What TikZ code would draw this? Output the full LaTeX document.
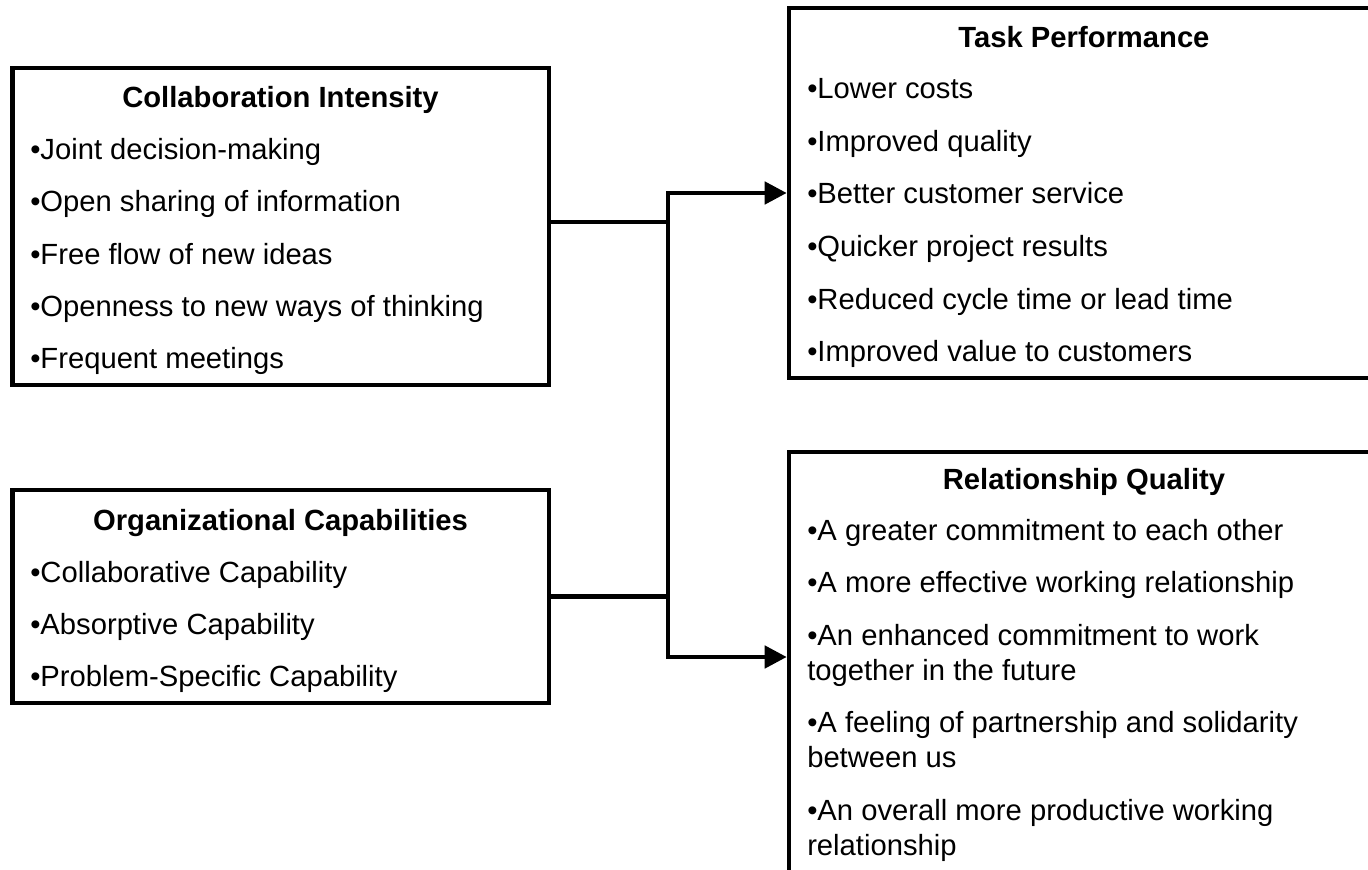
\documentclass[tikz,border=0pt]{standalone}
\usepackage{fontspec}
\setmainfont{Liberation Sans}
\usetikzlibrary{arrows.meta,fit}

\tikzset{
	box/.style={draw, line width=3.4pt, inner sep=0pt},
	head/.style={anchor=base, inner sep=0pt, font=\fontsize{21.9}{26}\selectfont\bfseries},
	item/.style={anchor=base west, inner sep=0pt, font=\fontsize{21.9}{26}\selectfont},
	link/.style={line width=3.4pt},
	arr/.style={link, -{Triangle[length=16.5pt,width=16.5pt]}}
}

\begin{document}
\begin{tikzpicture}[x=0.75pt,y=-0.75pt]
	\clip (0,0) rectangle (1368,870);
	\node[box, fit={(12.5,68) (549,385)}] (ci) {};
	\node[box, fit={(12.5,490) (549,703)}] (oc) {};
	\node[box, fit={(789,8) (1379,378)}] (tp) {};
	\node[box, fit={(789,452) (1379,900)}] (rq) {};
	\node[head] (cihead) at (280.5,108) {Collaboration Intensity};
	\foreach \y/\t [count=\i] in {160/Joint decision-making, 212/Open sharing of information,
		264/Free flow of new ideas, 316/Openness to new ways of thinking, 368/Frequent meetings}
		\node[item] (ci\i) at (30,\y) {•\t};
	\node[head] (ochead) at (280.5,530) {Organizational Capabilities};
	\foreach \y/\t [count=\i] in {582/Collaborative Capability, 634/Absorptive Capability,
		686/Problem-Specific Capability}
		\node[item] (oc\i) at (30,\y) {•\t};
	\node[head] (tphead) at (1084,48) {Task Performance};
	\foreach \y/\t [count=\i] in {99/•Lower costs, 151.5/•Improved quality,
		204/•Better customer service, 256.5/•Quicker project results,
		309/•Reduced cycle time or lead time, 361.5/•Improved value to customers}
		\node[item] (tp\i) at (807,\y) {\t};
	\node[head] (rqhead) at (1084,489) {Relationship Quality};
	\foreach \y/\t [count=\i] in {540/•A greater commitment to each other,
		592.5/•A more effective working relationship,
		645/•An enhanced commitment to work, 680/together in the future,
		732.5/•A feeling of partnership and solidarity, 767.5/between us,
		820/•An overall more productive working, 855/relationship}
		\node[item] (rq\i) at (807,\y) {\t};
	% joining lines
	\coordinate (jn) at (668,193);
	\coordinate (js) at (668,657);
	\draw[link] ([yshift=3.4pt]ci.east) -- ([yshift=3.4pt]ci.east -| jn);
	\draw[link] (oc.east) -- (oc.east -| jn);
	\draw[arr] (js) -- (jn) -- (tp.west);
	\draw[arr] (jn) -- (js) -- (js -| rq.west);
\end{tikzpicture}
\end{document}
